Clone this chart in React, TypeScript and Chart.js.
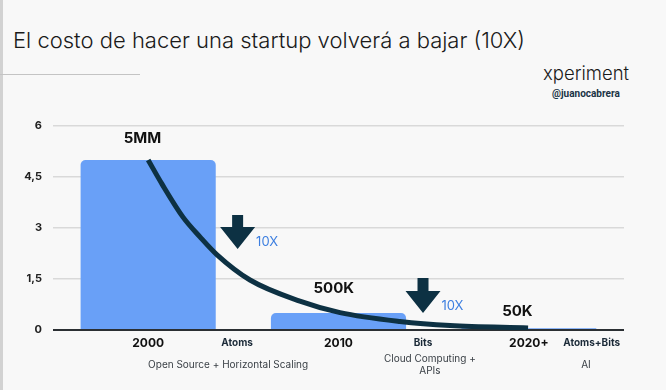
import React, { useEffect, useRef } from "react";
import { Chart, registerables } from "chart.js";

Chart.register(...registerables);

// ---- data ----
const categories = ["2000", "2010", "2020+"];
const costValues = [5, 0.5, 0.05];
const costLabels = ["5MM", "500K", "50K"];
const costLabelX = [-0.03, 0.975, 1.94];
const costLabelY = [5.62, 1.21, 0.53];

const curveX = [0, 0.073, 0.183, 0.272, 0.362, 0.535, 0.797, 1.008, 1.323, 1.586, 1.996];
const curveY = [5.0, 4.29, 3.32, 2.74, 2.21, 1.47, 0.85, 0.51, 0.25, 0.13, 0.06];

const yTicks = [0, 1.5, 3, 4.5, 6];
const yTickLabels = ["0", "1,5", "3", "4,5", "6"];

const arrowX = [0.47, 1.444];
const arrowTop = [3.38, 1.53];
const arrowTip = [2.38, 0.5];
const arrowText = ["10X", "10X"];

const eraNames = ["Atoms", "Bits", "Atoms+Bits"];
const eraX = [0.467, 1.444, 2.33];
const descLines = [["Open Source + Horizontal Scaling"], ["Cloud Computing +", "APIs"], ["AI"]];
const descX = [0.42, 1.48, 2.3];

const NAVY = "#0d3143";

const annotate = {
  id: "annotate",
  afterDatasetsDraw(chart: any) {
    const { ctx, chartArea, scales } = chart;
    const xs = scales.x;
    const ys = scales.y;
    ctx.save();
    ctx.font = "700 15px Inter";
    ctx.fillStyle = "#111111";
    ctx.textAlign = "center";
    ctx.textBaseline = "middle";
    costLabels.forEach((t, i) => {
      ctx.fillText(t, xs.getPixelForValue(costLabelX[i]), ys.getPixelForValue(costLabelY[i]));
    });
    arrowX.forEach((ax, i) => {
      const cx = xs.getPixelForValue(ax);
      const top = ys.getPixelForValue(arrowTop[i]);
      const tip = ys.getPixelForValue(arrowTip[i]);
      const headH = 22, headW = 17.5, shaftW = 5.5;
      ctx.fillStyle = NAVY;
      ctx.beginPath();
      ctx.moveTo(cx - shaftW, top);
      ctx.lineTo(cx + shaftW, top);
      ctx.lineTo(cx + shaftW, tip - headH);
      ctx.lineTo(cx + headW, tip - headH);
      ctx.lineTo(cx, tip);
      ctx.lineTo(cx - headW, tip - headH);
      ctx.lineTo(cx - shaftW, tip - headH);
      ctx.closePath();
      ctx.fill();
      ctx.fillStyle = "#3d7fe0";
      ctx.font = "400 13px Inter";
      ctx.textAlign = "left";
      ctx.fillText(arrowText[i], cx + 18.5, tip - 7);
    });
    const b = chartArea.bottom;
    ctx.textAlign = "center";
    ctx.fillStyle = "#1b2a38";
    ctx.font = "700 10px Inter";
    eraNames.forEach((t, i) => {
      ctx.fillText(t, xs.getPixelForValue(eraX[i]), b + 13);
    });
    ctx.fillStyle = "#3a4046";
    ctx.font = "400 10px Inter";
    descLines.forEach((lines, i) => {
      const x = xs.getPixelForValue(descX[i]);
      const lh = 12.5;
      const start = b + 35 - ((lines.length - 1) * lh) / 2;
      lines.forEach((ln, j) => ctx.fillText(ln, x, start + j * lh));
    });
    ctx.restore();
  },
};

export default function App() {
  const ref = useRef<HTMLCanvasElement | null>(null);

  useEffect(() => {
    if (!ref.current) return;
    const chart = new Chart(ref.current, {
      type: "bar",
      data: {
        datasets: [
          {
            type: "line",
            data: curveX.map((x, i) => ({ x, y: curveY[i] })),
            borderColor: NAVY,
            borderWidth: 5,
            pointRadius: 0,
            cubicInterpolationMode: "monotone",
            fill: false,
            order: 0,
          } as any,
          {
            type: "bar",
            data: costValues.map((v, i) => ({ x: i, y: v })),
            backgroundColor: "#69a0f7",
            borderRadius: { topLeft: 5, topRight: 5, bottomLeft: 0, bottomRight: 0 },
            borderSkipped: "bottom",
            barPercentage: 0.71,
            categoryPercentage: 1,
            grouped: false,
            order: 1,
          } as any,
        ],
      },
      options: {
        animation: false,
        responsive: false,
        maintainAspectRatio: false,
        layout: { padding: { left: 0, right: 42, top: 126, bottom: 0 } },
        plugins: { legend: { display: false }, tooltip: { enabled: false }, title: { display: false } },
        scales: {
          x: {
            type: "linear",
            min: -0.5,
            max: 2.5,
            offset: false,
            afterBuildTicks: (s: any) => { s.ticks = categories.map((_, i) => ({ value: i })); },
            grid: { display: false, drawTicks: false },
            border: { display: false },
            ticks: {
              color: "#111111",
              font: { family: "Inter", weight: "700", size: 12 },
              padding: 6,
              maxRotation: 0,
              autoSkip: false,
              callback: (v: any) => categories[Math.round(Number(v))] ?? "",
            },
            afterFit: (s: any) => { s.height = 60; },
          },
          y: {
            min: 0,
            max: 6,
            afterBuildTicks: (s: any) => { s.ticks = yTicks.map((v) => ({ value: v })); },
            afterFit: (s: any) => { s.width = 53; },
            grid: {
              drawTicks: false,
              color: (c: any) => (c.tick && c.tick.value === 0 ? "#2b2f33" : "#d9d9d9"),
              lineWidth: (c: any) => (c.tick && c.tick.value === 0 ? 2 : 1.5),
            },
            border: { display: false },
            ticks: {
              padding: 11,
              color: "#222222",
              font: { family: "Inter", weight: "700", size: 11 },
              callback: (v: any) => {
                const k = yTicks.indexOf(Number(v));
                return k >= 0 ? yTickLabels[k] : "";
              },
            },
          },
        },
      } as any,
      plugins: [annotate],
    });
    return () => chart.destroy();
  }, []);

  return (
    <div style={{ position: "absolute", left: 0, top: 0, width: 666, height: 390, background: "#f8f8f8", overflow: "hidden" }}>
      <div style={{ position: "absolute", left: 0, top: 0, width: 3, height: 390, background: "#d2d2d2" }} />
      <div style={{ position: "absolute", left: 0, top: 74, width: 140, height: 1, background: "#c4c4c4" }} />
      <div style={{ position: "absolute", left: 13, top: 29, fontFamily: "Inter", fontWeight: 300, fontSize: 22, lineHeight: "22px", color: "#1a1a1a", whiteSpace: "nowrap" }}>
        El costo de hacer una startup volverá a bajar (10X)
      </div>
      <div style={{ position: "absolute", left: 543, top: 64, fontFamily: "Inter", fontWeight: 300, fontSize: 18.5, lineHeight: "18px", color: "#1a1a1a", whiteSpace: "nowrap" }}>
        xperiment
      </div>
      <div style={{ position: "absolute", left: 552, top: 88, fontFamily: "Roboto", fontWeight: 700, fontSize: 10, lineHeight: "12px", color: "#1a3345", whiteSpace: "nowrap" }}>
        @juanocabrera
      </div>
      <canvas ref={ref} width={666} height={390} style={{ position: "absolute", left: 0, top: 0, width: 666, height: 390 }} />
    </div>
  );
}
